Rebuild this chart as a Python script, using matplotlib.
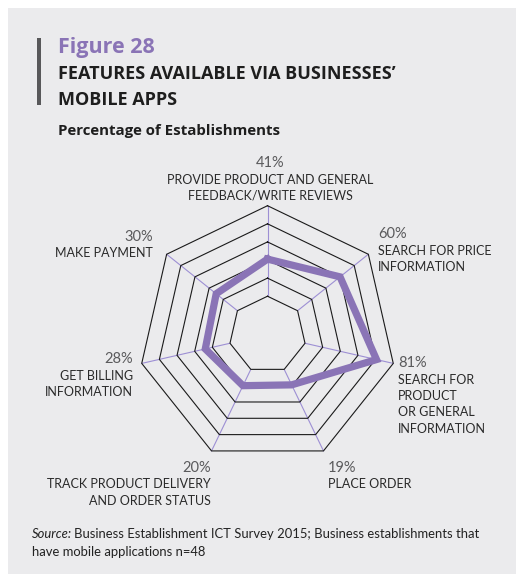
import numpy as np
import matplotlib.pyplot as plt
from matplotlib.patches import Rectangle

# features, clockwise from top
features = [
    "PROVIDE PRODUCT AND GENERAL\nFEEDBACK/WRITE REVIEWS",
    "SEARCH FOR PRICE\nINFORMATION",
    "SEARCH FOR\nPRODUCT\nOR GENERAL\nINFORMATION",
    "PLACE ORDER",
    "TRACK PRODUCT DELIVERY\nAND ORDER STATUS",
    "GET BILLING\nINFORMATION",
    "MAKE PAYMENT",
]
percent = [41, 60, 81, 19, 20, 28, 30]
rings = [0, 20, 40, 60, 80, 100]

W, H = 516, 574
purple = "#8a74b6"
spoke_col = "#9d8fd4"
FONT = "Lato"
HEAD = "Open Sans"

fig = plt.figure(figsize=(W / 100, H / 100), dpi=100)
fig.patch.set_facecolor("#ebebed")
# white margins at top and left
fig.patches.append(Rectangle((0, 0), 8 / W, 1, transform=fig.transFigure,
                             facecolor="white", edgecolor="none", zorder=-1))
fig.patches.append(Rectangle((0, (H - 8) / H), 1, 8 / H, transform=fig.transFigure,
                             facecolor="white", edgecolor="none", zorder=-1))


def px(x, y):
    return x / W, 1 - y / H


# header
fig.patches.append(Rectangle(px(37, 105), 3.5 / W, 67 / H, transform=fig.transFigure,
                             facecolor="#58585a", edgecolor="none"))
fig.text(*px(58, 53), "Figure 28", color=purple, fontsize=15.5, fontweight="bold",
         family=HEAD, va="baseline")
fig.text(*px(58, 79), "FEATURES AVAILABLE VIA BUSINESSES\u2019", color="#1e1e1e", fontsize=13,
         fontweight="bold", family=HEAD, va="baseline")
fig.text(*px(58, 105), "MOBILE APPS", color="#1e1e1e", fontsize=13,
         fontweight="bold", family=HEAD, va="baseline")
fig.text(*px(58, 135), "Percentage of Establishments", color="#1e1e1e", fontsize=10.8,
         fontweight="bold", family=HEAD, va="baseline")

# radar
cx, cy, R = 267.5, 334.7, 129
ax = fig.add_axes([(cx - R) / W, (H - cy - R) / H, 2 * R / W, 2 * R / H], projection="polar")
ax.set_theta_offset(np.pi / 2)
ax.set_theta_direction(-1)
ax.set_ylim(0, 100)
ax.set_rorigin(-42.5)
ax.set_axis_off()

n = len(percent)
theta = np.arange(n) * 2 * np.pi / n
theta_c = np.append(theta, theta[0])

for t in theta:
    ax.plot([t, t], [rings[0], rings[-1]], color=spoke_col, lw=0.8, zorder=1, clip_on=False)
for r in rings:
    ax.plot(theta_c, [r] * (n + 1), color="#1a1a1a", lw=0.8, zorder=2, clip_on=False)
vals = np.append(percent, percent[0])
ax.plot(theta_c, vals, color=purple, lw=5.2, solid_joinstyle="miter", zorder=3, clip_on=False)

# labels: (x, y of percent baseline, alignment)
label_pos = [
    (270, 167, "center"),
    (378, 238, "left"),
    (398, 367, "left"),
    (328, 472, "left"),
    (211, 472, "right"),
    (133, 363, "right"),
    (153, 241, "right"),
]
for (x, y, ha), p, name in zip(label_pos, percent, features):
    fig.text(*px(x, y), f"{p}%", color="#5a5a5c", fontsize=10.5,
             family=FONT, ha=ha, va="baseline")
    for i, line in enumerate(name.split("\n")):
        fig.text(*px(x, y + 16.5 * (i + 1)), line, color="#2a2a2a", fontsize=9,
                 family=FONT, ha=ha, va="baseline")

# source
t1 = fig.text(*px(32, 538), "Source:", color="#222222", fontsize=9.4, style="italic",
              family=FONT, va="baseline")
bb = t1.get_window_extent(fig.canvas.get_renderer())
fig.text(bb.x1 / W + 2 / W, 1 - 538 / H,
         "Business Establishment ICT Survey 2015; Business establishments that",
         color="#222222", fontsize=9.4, family=FONT, va="baseline")
fig.text(*px(32, 556), "have mobile applications n=48", color="#222222", fontsize=9.4,
         family=FONT, va="baseline")

fig.savefig("out.png", dpi=100, facecolor=fig.get_facecolor())
